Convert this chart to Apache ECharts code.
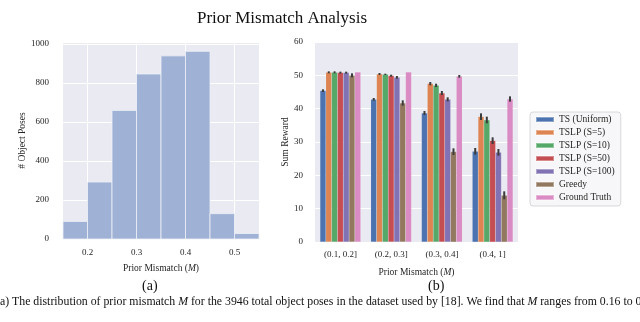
<!DOCTYPE html>
<html>
<head>
<meta charset="utf-8">
<script src="https://cdn.jsdelivr.net/npm/echarts@6/dist/echarts.min.js"></script>
<style>
  html, body { margin: 0; padding: 0; background: #fff; }
  #chart { width: 640px; height: 322px; }
</style>
</head>
<body>
<div id="chart"></div>
<script>
// left panel: histogram of prior mismatch
var binEdges = [0.15, 0.20, 0.25, 0.30, 0.35, 0.40, 0.45, 0.50, 0.55];
var binCounts = [90, 292, 659, 846, 939, 962, 130, 28];
var histTicks = [0.2, 0.3, 0.4, 0.5];

// right panel: sum reward per mismatch bucket
var buckets = ['(0.1, 0.2]', '(0.2, 0.3]', '(0.3, 0.4]', '(0.4, 1]'];
var methods = ['TS (Uniform)', 'TSLP (S=5)', 'TSLP (S=10)', 'TSLP (S=50)', 'TSLP (S=100)', 'Greedy', 'Ground Truth'];
var colors = ['#4c72b0', '#dd8452', '#55a868', '#c44e52', '#8172b3', '#937860', '#da8bc3'];
var tsUniform = [45.4, 42.8, 38.7, 27.2];
var tslp5 = [50.9, 50.4, 47.5, 37.6];
var tslp10 = [50.9, 50.3, 47.0, 36.6];
var tslp50 = [50.8, 49.9, 44.7, 30.4];
var tslp100 = [50.8, 49.4, 42.8, 26.9];
var greedy = [50.0, 41.7, 27.1, 14.0];
var groundTruth = [51.0, 51.0, 49.7, 42.9];
var rewards = [tsUniform, tslp5, tslp10, tslp50, tslp100, greedy, groundTruth];
// half length of the error bars
var errTs = [0.4, 0.4, 0.6, 1.0];
var err5 = [0.3, 0.3, 0.5, 1.0];
var err10 = [0.3, 0.2, 0.5, 1.0];
var err50 = [0.3, 0.3, 0.6, 1.0];
var err100 = [0.3, 0.4, 0.6, 1.0];
var errGreedy = [0.6, 0.8, 1.0, 1.2];
var errGt = [0, 0, 0.4, 0.8];
var errors = [errTs, err5, err10, err50, err100, errGreedy, errGt];

var serif = '"Liberation Serif", "DejaVu Serif", serif';
var bg = '#eaeaf2';
var ink = '#262626';

var chart = echarts.init(document.getElementById('chart'), null, { renderer: 'canvas' });

var histData = binCounts.map(function (c, i) { return [binEdges[i], binEdges[i + 1], c]; });

// bar series for the right panel
var series = [];
methods.forEach(function (m, i) {
  series.push({
    name: m,
    type: 'bar',
    xAxisIndex: 1,
    yAxisIndex: 1,
    data: rewards[i],
    barGap: '0%',
    barCategoryGap: '20%',
    itemStyle: { color: colors[i], borderColor: 'rgba(255,255,255,0.35)', borderWidth: 0.3 },
    z: 2
  });
});

// error bars drawn on top of the grouped bars
var errData = [];
rewards.forEach(function (arr, s) {
  arr.forEach(function (v, c) {
    errData.push([c, v, errors[s][c], s]);
  });
});
series.push({
  type: 'custom',
  xAxisIndex: 1,
  yAxisIndex: 1,
  data: errData,
  z: 5,
  silent: true,
  renderItem: function (params, api) {
    var c = api.value(0), v = api.value(1), e = api.value(2), s = api.value(3);
    if (!e) return;
    var bw = api.size([1, 0])[0];
    var cx = api.coord([c, v])[0];
    var x = cx - 0.4 * bw + (s + 0.5) * bw * 0.8 / methods.length;
    var top = api.coord([c, v + e])[1];
    var bot = api.coord([c, v - e])[1];
    return {
      type: 'line',
      shape: { x1: x, y1: top, x2: x, y2: bot },
      style: { stroke: '#3c3c3c', lineWidth: 2 }
    };
  }
});

// histogram as rectangles between bin edges
series.push({
  type: 'custom',
  xAxisIndex: 0,
  yAxisIndex: 0,
  data: histData,
  z: 2,
  renderItem: function (params, api) {
    var p0 = api.coord([api.value(0), api.value(2)]);
    var p1 = api.coord([api.value(1), 0]);
    return {
      type: 'rect',
      shape: { x: p0[0], y: p0[1], width: p1[0] - p0[0], height: p1[1] - p0[1] },
      style: { fill: '#9fb2d5', stroke: '#eef0f6', lineWidth: 0.8 }
    };
  }
});

var option = {
  animation: false,
  backgroundColor: '#fff',
  textStyle: { fontFamily: serif },
  title: {
    text: 'Prior Mismatch Analysis',
    left: 277, top: 5, textAlign: 'center',
    textStyle: { fontFamily: serif, fontSize: 17, fontWeight: 'normal', color: '#111' }
  },
  legend: {
    data: methods,
    orient: 'vertical',
    left: 530, top: 112,
    itemWidth: 18, itemHeight: 5, itemGap: 2,
    padding: [2, 6, 3, 5],
    backgroundColor: '#f7f7f9',
    borderColor: '#cfcfd4', borderWidth: 0.8, borderRadius: 3,
    icon: 'rect',
    textStyle: { fontFamily: serif, fontSize: 9.5, color: ink, lineHeight: 11 }
  },
  grid: [
    { left: 63, right: 381, top: 42, bottom: 83, show: true, backgroundColor: bg, borderWidth: 0 },
    { left: 315, right: 122, top: 42, bottom: 80, show: true, backgroundColor: bg, borderWidth: 0 }
  ],
  xAxis: [
    {
      type: 'value', gridIndex: 0, min: 0.15, max: 0.55,
      name: 'Prior Mismatch ({i|M})', nameLocation: 'middle', nameGap: 24,
      nameTextStyle: { fontFamily: serif, fontSize: 9.5, color: ink, rich: { i: { fontFamily: serif, fontSize: 9.5, fontStyle: 'italic', color: ink } } },
      axisLine: { show: false }, axisTick: { show: false, customValues: histTicks },
      axisLabel: { customValues: histTicks, fontFamily: serif, fontSize: 9, color: ink, margin: 9 },
      splitLine: { show: true, lineStyle: { color: '#fff', width: 1 } }
    },
    {
      type: 'category', gridIndex: 1, data: buckets,
      name: 'Prior Mismatch ({i|M})', nameLocation: 'middle', nameGap: 25,
      nameTextStyle: { fontFamily: serif, fontSize: 9.5, color: ink, rich: { i: { fontFamily: serif, fontSize: 9.5, fontStyle: 'italic', color: ink } } },
      axisLine: { show: false }, axisTick: { show: false },
      axisLabel: { fontFamily: serif, fontSize: 9, color: ink, margin: 8 },
      splitLine: { show: false }
    }
  ],
  yAxis: [
    {
      type: 'value', gridIndex: 0, min: 0, max: 1010, interval: 200,
      name: '# Object Poses', nameLocation: 'middle', nameGap: 36, nameRotate: 90,
      nameTextStyle: { fontFamily: serif, fontSize: 9.5, color: ink },
      axisLine: { show: false }, axisTick: { show: false },
      axisLabel: {
        fontFamily: serif, fontSize: 9, color: ink, margin: 14, showMaxLabel: false,
        formatter: function (v) { return v % 200 === 0 ? String(v) : ''; }
      },
      splitLine: { show: true, lineStyle: { color: '#fff', width: 1 } }
    },
    {
      type: 'value', gridIndex: 1, min: 0, max: 60, interval: 10,
      name: 'Sum Reward', nameLocation: 'middle', nameGap: 25, nameRotate: 90,
      nameTextStyle: { fontFamily: serif, fontSize: 9.5, color: ink },
      axisLine: { show: false }, axisTick: { show: false },
      axisLabel: { fontFamily: serif, fontSize: 9, color: ink, margin: 12 },
      splitLine: { show: true, lineStyle: { color: '#fff', width: 1 } }
    }
  ],
  graphic: [
    {
      type: 'text', left: 142, top: 279, z: 10,
      style: { text: '(a)', fontFamily: serif, fontSize: 14, fill: '#111' }
    },
    {
      type: 'text', left: 428, top: 279, z: 10,
      style: { text: '(b)', fontFamily: serif, fontSize: 14, fill: '#111' }
    },
    {
      type: 'text', left: -4, top: 296, z: 10,
      style: {
        text: '(a) The distribution of prior mismatch {i|M} for the 3946 total object poses in the dataset used by [18]. We find that {i|M} ranges from 0.16 to 0.55.',
        fontFamily: serif, fontSize: 11.8, fill: '#111',
        rich: { i: { fontFamily: serif, fontSize: 11.8, fontStyle: 'italic', fill: '#111' } }
      }
    }
  ],
  series: series
};

chart.setOption(option);
</script>
</body>
</html>
